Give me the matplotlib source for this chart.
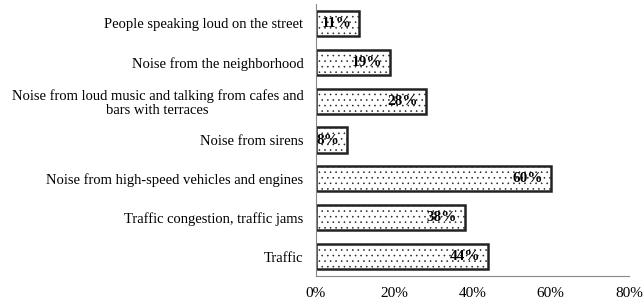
import matplotlib
matplotlib.use("Agg")
import matplotlib.pyplot as plt

plt.rcParams['font.family'] = ['Liberation Serif', 'DejaVu Serif']
plt.rcParams['hatch.color'] = '#c4c4c4'
plt.rcParams['hatch.linewidth'] = 0.4

categories = [
    "Traffic",
    "Traffic congestion, traffic jams",
    "Noise from high-speed vehicles and engines",
    "Noise from sirens",
    "Noise from loud music and talking from cafes and\nbars with terraces",
    "Noise from the neighborhood",
    "People speaking loud on the street",
]
values = [44, 38, 60, 8, 28, 19, 11]
xticks = [0, 20, 40, 60, 80]

fig = plt.figure(figsize=(6.43, 3.02), dpi=100)
ax = fig.add_axes([316 / 643, 26 / 302, 313 / 643, 272 / 302])

bars = ax.barh(range(len(values)), values, height=0.65, color='white',
               edgecolor='#222222', linewidth=1.8, hatch='...')

for b, v in zip(bars, values):
    ax.text(b.get_width() - 2.0, b.get_y() + b.get_height() / 2, f"{v}%",
            ha='right', va='center', fontsize=11, fontweight='bold')

ax.set_xlim(0, 80)
ax.set_ylim(-0.5, len(values) - 0.5)
ax.set_yticks(range(len(values)))
ax.set_yticklabels(categories, fontsize=10.5, ha='right', multialignment='center',
                   linespacing=1.05)
ax.tick_params(axis='y', length=0, pad=9)
ax.set_xticks(xticks)
ax.set_xticklabels([f"{t}%" for t in xticks], fontsize=11)
ax.tick_params(axis='x', length=0, pad=8)

for s in ['top', 'right']:
    ax.spines[s].set_visible(False)
ax.spines['left'].set_color('#888888')
ax.spines['bottom'].set_color('#888888')

fig.savefig("out.png", dpi=100)
